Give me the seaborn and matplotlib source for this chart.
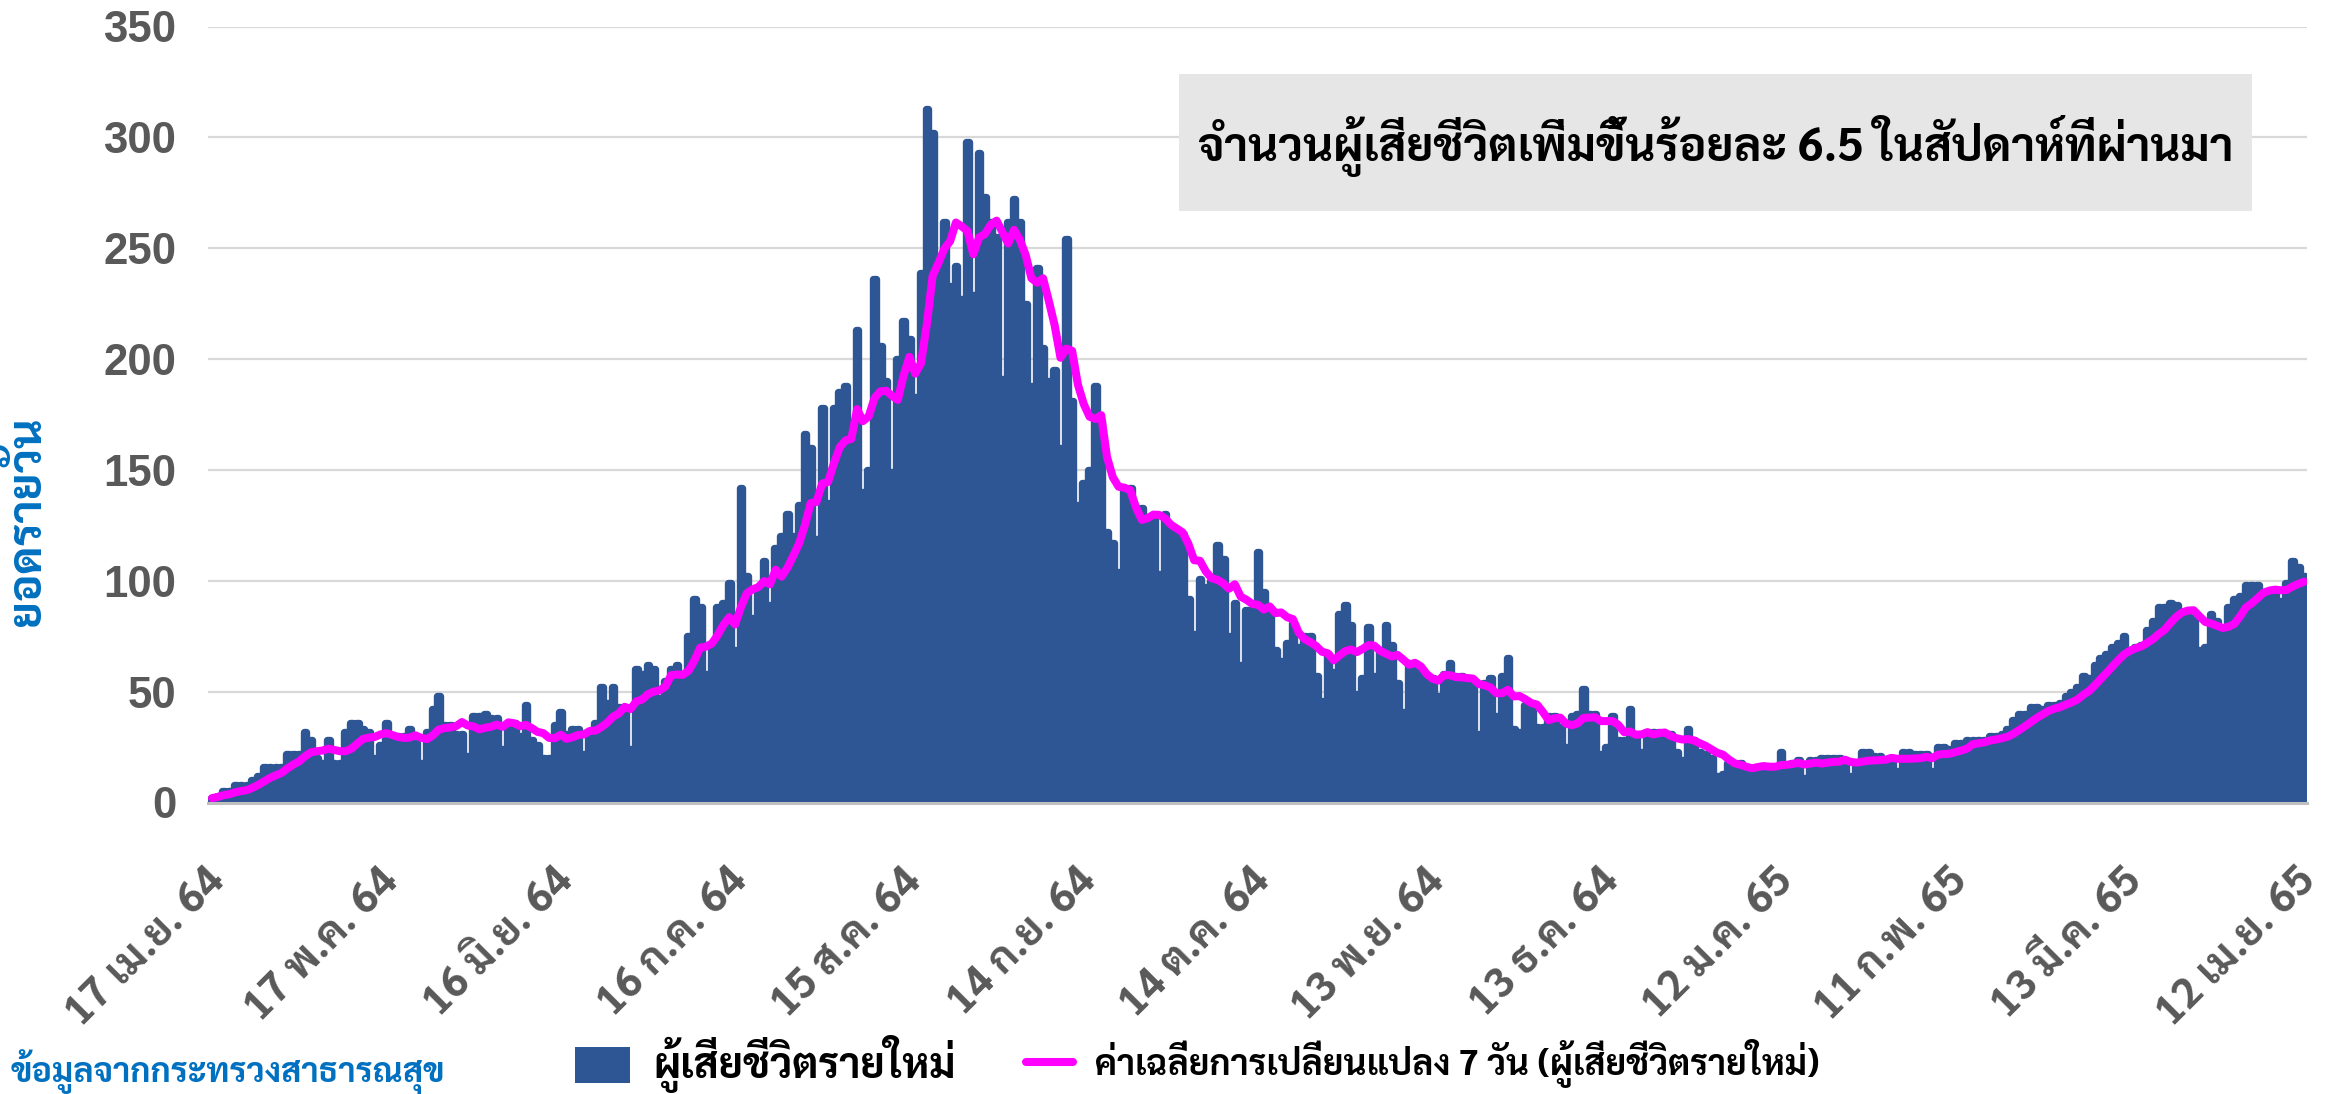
import numpy as np
import pandas as pd
import matplotlib
matplotlib.use("Agg")
import matplotlib.pyplot as plt
import matplotlib.patheffects as pe
from matplotlib import font_manager, ft2font
from matplotlib.patches import Rectangle
from matplotlib.lines import Line2D
from matplotlib.transforms import ScaledTranslation
import seaborn as sns

# Daily new COVID-19 deaths, 17 Apr 2021 (17 เม.ย. 64) to 12 Apr 2022 (12 เม.ย. 65),
# one list per 30-day block.
deaths_apr_may = [2, 3, 5, 5, 8, 8, 8, 10, 12, 16, 16, 16, 16, 22, 22, 22, 32, 28, 20, 18,
                  28, 18, 18, 32, 36, 36, 33, 32, 20, 26]
deaths_may_jun = [36, 30, 30, 30, 33, 27, 18, 32, 42, 48, 35, 35, 31, 31, 21, 39, 39, 40, 38, 38,
                  24, 35, 36, 30, 44, 28, 26, 20, 20, 35]
deaths_jun_jul = [41, 31, 33, 33, 22, 31, 36, 52, 45, 52, 43, 43, 24, 60, 58, 62, 60, 47, 55, 60,
                  62, 57, 75, 92, 88, 58, 70, 88, 90, 99]
deaths_jul_aug = [69, 142, 102, 83, 95, 109, 89, 115, 120, 130, 120, 134, 166, 160, 119, 178, 135,
                  178, 185, 188, 165, 213, 140, 150, 236, 206, 190, 149, 200, 217]
deaths_aug_sep = [209, 183, 239, 313, 302, 240, 262, 233, 242, 227, 298, 229, 293, 273, 262, 255,
                  191, 262, 272, 262, 225, 188, 241, 205, 190, 195, 160, 254, 181, 134]
deaths_sep_oct = [144, 150, 188, 172, 122, 117, 104, 141, 142, 133, 133, 128, 128, 103, 130, 122,
                  121, 121, 92, 76, 101, 97, 100, 116, 110, 75, 90, 62, 87, 87]
deaths_oct_nov = [113, 95, 85, 69, 64, 72, 81, 70, 75, 75, 57, 46, 67, 59, 85, 89, 80, 49, 56, 79,
                  57, 69, 80, 71, 54, 41, 63, 63, 58, 56]
deaths_nov_dec = [56, 48, 58, 63, 57, 57, 54, 54, 31, 54, 56, 39, 57, 65, 33, 32, 44, 44, 34, 34,
                  39, 39, 34, 25, 39, 40, 51, 40, 40, 22]
deaths_dec_jan = [25, 39, 28, 28, 42, 30, 23, 32, 32, 32, 30, 31, 23, 19, 33, 28, 23, 22, 20, 12,
                  13, 18, 16, 18, 16, 15, 16, 16, 16, 16]
deaths_jan_feb = [23, 17, 18, 19, 11, 19, 19, 20, 20, 20, 20, 17, 12, 17, 23, 23, 21, 21, 18, 18,
                  14, 23, 23, 22, 22, 22, 14, 25, 25, 24]
deaths_feb_mar = [27, 27, 28, 28, 28, 28, 30, 30, 31, 33, 37, 40, 40, 43, 43, 42, 44, 44, 45, 48,
                  50, 52, 57, 56, 62, 65, 67, 70, 72, 75]
deaths_mar_apr = [68, 70, 71, 78, 82, 88, 88, 90, 89, 85, 84, 83, 69, 70, 85, 82, 78, 88, 92, 93,
                  98, 98, 98, 95, 95, 95, 91, 99, 109, 106, 102]

tick_labels = ["17 เม.ย. 64", "17 พ.ค. 64", "16 มิ.ย. 64", "16 ก.ค. 64", "15 ส.ค. 64",
               "14 ก.ย. 64", "14 ต.ค. 64", "13 พ.ย. 64", "13 ธ.ค. 64", "12 ม.ค. 65",
               "11 ก.พ. 65", "13 มี.ค. 65", "12 เม.ย. 65"]
tick_step_days = 30
y_ticks = [0, 50, 100, 150, 200, 250, 300, 350]

title_text = "จำนวนผู้เสียชีวิตเพิ่มขึ้นร้อยละ 6.5 ในสัปดาห์ที่ผ่านมา"
y_label = "ยอดรายวัน"
bar_label = "ผู้เสียชีวิตรายใหม่"
line_label = "ค่าเฉลี่ยการเปลี่ยนแปลง 7 วัน (ผู้เสียชีวิตรายใหม่)"
source_text = "ข้อมูลจากกระทรวงสาธารณสุข"

BLUE = "#2E5594"
MAGENTA = "#FF00FF"
GREY_TEXT = "#595959"
LINK_BLUE = "#0070C0"


def _weight(entry):
    w = entry.weight
    return w if isinstance(w, int) else font_manager.weight_dict.get(w, 400)


def find_thai_family():
    """Pick an installed family that draws Thai script, preferring one with a bold face."""
    preferred = ["Noto Sans Thai", "Noto Sans Thai UI", "Noto Sans Thai Looped", "Tahoma",
                 "Leelawadee UI", "Sarabun", "Loma", "Garuda", "Kinnari", "Norasi", "Waree",
                 "Umpush", "Laksaman", "Sawasdee", "Tlwg Typo", "FreeSans", "Arial Unicode MS"]
    covering = {}
    for entry in font_manager.fontManager.ttflist:
        try:
            cmap = ft2font.FT2Font(entry.fname).get_charmap()
        except Exception:
            continue
        if all(code in cmap for code in (0x0E01, 0x0E33, 0x0E49, 0x0E39)):
            covering.setdefault(entry.name, []).append(_weight(entry))
    if not covering:
        return None, False
    ranked = sorted(covering, key=lambda n: (max(covering[n]) < 600,
                                             preferred.index(n) if n in preferred else 99, n))
    best = ranked[0]
    return best, max(covering[best]) >= 600


sns.set_theme(style="white")
thai_family, thai_has_bold = find_thai_family()
TEXT_FAMILY = ([thai_family] if thai_family else []) + ["Liberation Sans", "DejaVu Sans"]
NUM_FAMILY = ["Liberation Sans", "DejaVu Sans"]
plt.rcParams["font.family"] = TEXT_FAMILY

# emboldening stroke for Thai text when the Thai family has no bold face
EMBOLDEN = 0.0 if thai_has_bold else 1.7


def heavy(color):
    return [pe.withStroke(linewidth=EMBOLDEN, foreground=color)] if EMBOLDEN > 0 else []


deaths = (deaths_apr_may + deaths_may_jun + deaths_jun_jul + deaths_jul_aug + deaths_aug_sep
          + deaths_sep_oct + deaths_oct_nov + deaths_nov_dec + deaths_dec_jan + deaths_jan_feb
          + deaths_feb_mar + deaths_mar_apr)
df = pd.DataFrame({"day": np.arange(len(deaths)), "deaths": deaths})
df["ma7"] = df["deaths"].rolling(7, min_periods=1).mean()

W, H = 2326, 1094
fig = plt.figure(figsize=(W / 100, H / 100), dpi=100)
fig.patch.set_facecolor("white")


def fx(px):
    return px / W


def fy(py):
    return 1 - py / H


left, right, top, bottom = 208, 2307, 26.5, 802.5
ax = fig.add_axes([fx(left), fy(bottom), fx(right - left), (bottom - top) / H])

# columns: narrow face plus a thick same-colour outline with round joins gives
# ~10 px wide columns with rounded tops
sns.barplot(data=df, x="day", y="deaths", color=BLUE, saturation=1, width=0.45,
            edgecolor=BLUE, linewidth=5.3, errorbar=None, ax=ax, zorder=2)
for bar in ax.patches:
    bar.set_joinstyle("round")
sns.lineplot(data=df, x="day", y="ma7", color=MAGENTA, linewidth=5.8, ax=ax, zorder=3,
             solid_capstyle="round", solid_joinstyle="round")

ax.set_xlim(-0.7, len(deaths) - 0.5)
ax.set_ylim(0, 350)
ax.set_axisbelow(True)
ax.yaxis.grid(True, color="#D9D9D9", linewidth=1.6)
ax.xaxis.grid(False)
for side in ("top", "right", "left"):
    ax.spines[side].set_visible(False)
ax.spines["bottom"].set_color("#BFBFBF")
ax.spines["bottom"].set_linewidth(2.2)
ax.spines["bottom"].set_zorder(4)
ax.set_xlabel("")
ax.set_ylabel("")

ax.set_yticks(y_ticks)
ax.set_yticklabels([str(v) for v in y_ticks], fontsize=31.5, fontweight="bold",
                   color=GREY_TEXT, family=NUM_FAMILY)
ax.tick_params(axis="y", length=0, pad=23)

xpos = [i * tick_step_days for i in range(len(tick_labels))]
ax.set_xticks(xpos)
ax.set_xticklabels(tick_labels, rotation=45, ha="right", va="center",
                   rotation_mode="anchor", fontsize=30.5, fontweight="bold", color=GREY_TEXT)
ax.tick_params(axis="x", length=0, pad=52)
shift = ScaledTranslation(6 / 100, 0, fig.dpi_scale_trans)
for lab in ax.get_xticklabels():
    lab.set_transform(lab.get_transform() + shift)
    lab.set_path_effects(heavy(GREY_TEXT))

# headline box
fig.add_artist(Rectangle((fx(1179), fy(211)), fx(2252 - 1179), (211 - 74) / H,
                         transform=fig.transFigure, facecolor="#E6E6E6", edgecolor="none",
                         zorder=5))
fig.text(fx(1716), fy(146), title_text, ha="center", va="center", fontsize=33.4,
         fontweight="bold", color="black", zorder=6, path_effects=heavy("black"))

# y-axis caption
fig.text(fx(28), fy(521), y_label, rotation=90, ha="center", va="center", fontsize=33,
         fontweight="bold", color=LINK_BLUE, path_effects=heavy(LINK_BLUE))

# legend
fig.add_artist(Rectangle((fx(575), fy(1083)), fx(55), 36 / H, transform=fig.transFigure,
                         facecolor=BLUE, edgecolor="none"))
fig.text(fx(653), fy(1064), bar_label, ha="left", va="center", fontsize=30,
         fontweight="bold", color="black", path_effects=heavy("black"))
fig.add_artist(Line2D([fx(1026), fx(1073)], [fy(1062), fy(1062)], transform=fig.transFigure,
                      color=MAGENTA, linewidth=5.8, solid_capstyle="round"))
fig.text(fx(1095), fy(1064), line_label, ha="left", va="center", fontsize=25.5,
         fontweight="bold", color="black", path_effects=heavy("black"))

# data source
fig.text(fx(445), fy(1072), source_text, ha="right", va="center", fontsize=24.5,
         fontweight="bold", color=LINK_BLUE, path_effects=heavy(LINK_BLUE))

fig.savefig("out.png", dpi=100, facecolor="white")
